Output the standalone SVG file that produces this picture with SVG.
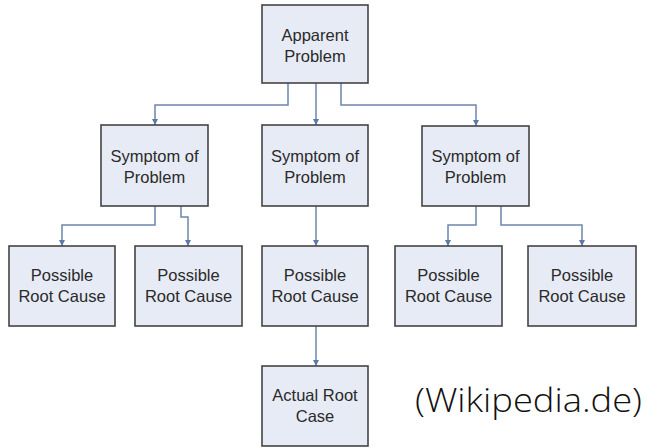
<svg xmlns="http://www.w3.org/2000/svg" width="647" height="448" viewBox="0 0 647 448">
<style>
.box{fill:#e7ebf5;stroke:#444;stroke-width:1.6}
.t{font-family:"Liberation Sans",Arial,sans-serif;font-size:16.5px;fill:#2a2a2a;text-anchor:middle}
.c{fill:none;stroke:#6c86ad;stroke-width:1.5}
</style>
<defs>
<marker id="ah" viewBox="0 0 10 10" refX="10" refY="5" markerWidth="6" markerHeight="6" markerUnits="userSpaceOnUse" orient="auto">
<path d="M0,0 L10,5 L0,10 Z" fill="#5d79a6"/>
</marker>
</defs>
<rect width="647" height="448" fill="#fff"/>
<g id="connectors">
<path class="c" d="M288,83 V105 H155 V125" marker-end="url(#ah)"/>
<path class="c" d="M316,83 V125" marker-end="url(#ah)"/>
<path class="c" d="M341,83 V105 H476 V126" marker-end="url(#ah)"/>
<path class="c" d="M155,206 V225 H62 V246" marker-end="url(#ah)"/>
<path class="c" d="M181,206 V217 H188 V246" marker-end="url(#ah)"/>
<path class="c" d="M316,206 V246" marker-end="url(#ah)"/>
<path class="c" d="M476,206 V225 H448 V246" marker-end="url(#ah)"/>
<path class="c" d="M501,206 V225 H582 V246" marker-end="url(#ah)"/>
<path class="c" d="M316,326 V366" marker-end="url(#ah)"/>
</g>
<g id="apparent">
<rect class="box" x="262" y="5" width="106" height="78"/>
<text class="t" x="315" y="41">Apparent</text>
<text class="t" x="315" y="62">Problem</text>
</g>
<g id="symptom1">
<rect class="box" x="101" y="125" width="107" height="81"/>
<text class="t" x="154.5" y="162">Symptom of</text>
<text class="t" x="154.5" y="183">Problem</text>
</g>
<g id="symptom2">
<rect class="box" x="262" y="125" width="106" height="81"/>
<text class="t" x="315" y="162">Symptom of</text>
<text class="t" x="315" y="183">Problem</text>
</g>
<g id="symptom3">
<rect class="box" x="422" y="126" width="107" height="80"/>
<text class="t" x="475.5" y="162">Symptom of</text>
<text class="t" x="475.5" y="183">Problem</text>
</g>
<g id="cause1">
<rect class="box" x="9" y="246" width="106" height="80"/>
<text class="t" x="62" y="281">Possible</text>
<text class="t" x="62" y="302">Root Cause</text>
</g>
<g id="cause2">
<rect class="box" x="135" y="246" width="107" height="80"/>
<text class="t" x="188.5" y="281">Possible</text>
<text class="t" x="188.5" y="302">Root Cause</text>
</g>
<g id="cause3">
<rect class="box" x="262" y="246" width="106" height="80"/>
<text class="t" x="315" y="281">Possible</text>
<text class="t" x="315" y="302">Root Cause</text>
</g>
<g id="cause4">
<rect class="box" x="395" y="246" width="107" height="80"/>
<text class="t" x="448.5" y="281">Possible</text>
<text class="t" x="448.5" y="302">Root Cause</text>
</g>
<g id="cause5">
<rect class="box" x="528" y="246" width="108" height="80"/>
<text class="t" x="582" y="281">Possible</text>
<text class="t" x="582" y="302">Root Cause</text>
</g>
<g id="actual">
<rect class="box" x="262" y="366" width="106" height="80"/>
<text class="t" x="315" y="401">Actual Root</text>
<text class="t" x="315" y="422">Case</text>
</g>
<text x="415" y="412" font-family="'Open Sans','DejaVu Sans',sans-serif" font-weight="300" font-size="33" fill="#111" textLength="227" lengthAdjust="spacingAndGlyphs">(Wikipedia.de)</text>
</svg>
